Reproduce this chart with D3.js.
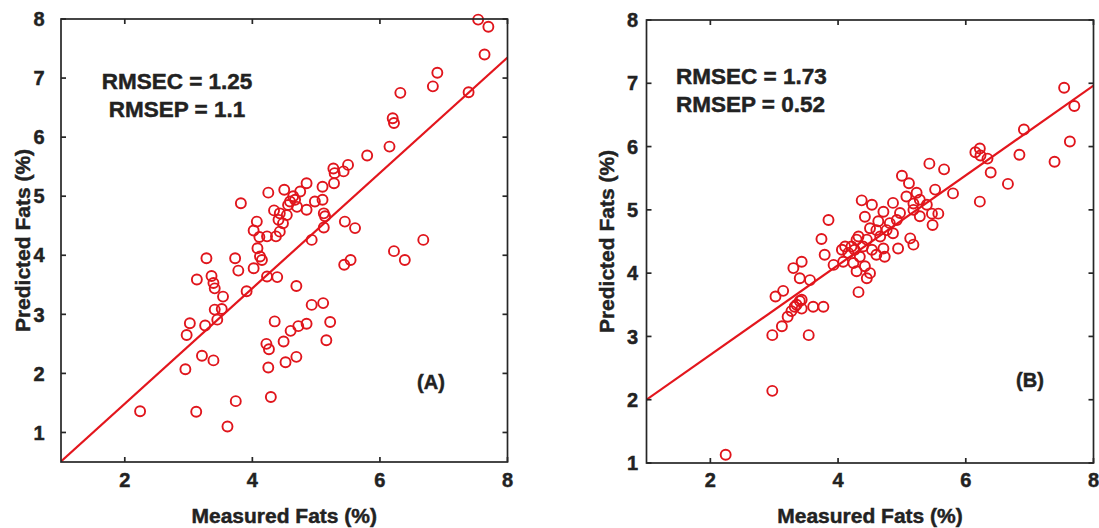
<!DOCTYPE html>
<meta charset="utf-8">
<style>
body { margin: 0; background: #fff; }
svg { display: block; }
.frame { fill: none; stroke: #262626; stroke-width: 1.7; }
.tick { stroke: #262626; stroke-width: 1.7; }
.lbl { font-family: "Liberation Sans", Arial, sans-serif; font-weight: bold; fill: #222; stroke: #222; stroke-width: 0.45; }
.dot { fill: none; stroke: #e0151c; stroke-width: 1.9; }
.fit { stroke: #e3161d; stroke-width: 2.2; fill: none; }
</style>
<body>
<div id="draw"></div>
<script src="https://cdn.jsdelivr.net/npm/d3@7"></script>
<script>

// measured vs predicted fats, panel A
var pointsA = [
  [7.54,7.99],[7.70,7.87],[7.64,7.40],[6.90,7.09],[6.83,6.86],[6.32,6.75],[7.39,6.76],[6.20,6.32],[6.22,6.24],[6.15,5.84],[5.80,5.69],
  [5.50,5.53],[5.43,5.42],[5.27,5.47],[5.29,5.39],[5.28,5.22],[5.10,5.16],[4.85,5.22],[4.75,5.08],[4.50,5.11],[4.25,5.06],[3.82,4.88],
  [4.64,5.00],[4.67,4.94],[4.59,4.91],[4.56,4.85],[4.70,4.82],[4.85,4.77],[4.98,4.91],[5.10,4.94],[5.12,4.71],[5.14,4.66],[5.12,4.47],
  [4.43,4.71],[4.34,4.76],[4.54,4.68],[4.41,4.60],[4.48,4.54],[4.43,4.40],[4.37,4.32],[4.23,4.32],[4.07,4.57],[4.02,4.42],[4.11,4.31],
  [4.08,4.12],[4.12,3.98],[4.15,3.92],[4.02,3.78],
  [4.93,4.26],[5.45,4.57],[5.61,4.46],[5.44,3.84],[5.54,3.92],[6.22,4.07],[6.39,3.92],[6.68,4.26],
  [3.73,3.95],[3.78,3.74],[3.28,3.95],[4.23,3.64],[4.39,3.63],[3.91,3.39],[4.69,3.48],
  [3.13,3.59],[3.36,3.65],[3.39,3.53],[3.41,3.44],[3.54,3.30],[3.41,3.08],[3.52,3.09],[3.45,2.91],[3.02,2.85],[3.26,2.81],
  [2.97,2.65],[2.95,2.07],[3.21,2.30],[3.39,2.22],[2.24,1.36],[3.12,1.35],[3.74,1.53],[3.61,1.10],[4.29,1.60],[4.25,2.10],
  [4.26,2.41],[4.22,2.50],[4.49,2.54],[4.52,2.19],[4.69,2.28],
  [4.35,2.88],[4.60,2.72],[4.72,2.80],[4.85,2.84],[4.93,3.16],[5.11,3.19],[5.22,2.87],[5.16,2.56]
];

// panel B
var pointsB = [
  [2.24,1.13],[2.97,2.14],[2.97,3.02],[3.54,3.02],[3.12,3.16],[3.02,3.63],[3.14,3.72],[3.21,3.31],[3.27,3.40],[3.35,3.50],[3.40,3.56],[3.43,3.44],
  [3.32,3.47],[3.61,3.47],[3.77,3.47],[3.43,3.58],
  [3.30,4.08],[3.43,4.18],[3.40,3.92],[3.56,3.89],[3.74,4.54],[3.79,4.29],[3.85,4.84],[3.93,4.13],
  [4.08,4.18],[4.24,4.16],[4.34,4.26],[4.16,4.32],[4.06,4.37],[4.11,4.42],[4.21,4.42],[4.26,4.37],[4.29,4.53],[4.32,4.58],[4.39,4.42],
  [4.45,4.53],[4.53,4.37],[4.60,4.29],[4.73,4.26],[4.71,4.39],[4.29,4.03],[4.42,4.11],[4.50,4.00],[4.45,3.92],[4.32,3.70],
  [4.37,5.15],[4.53,5.08],[4.42,4.89],[4.63,4.82],[4.81,4.79],[4.92,4.84],[4.76,4.68],[4.60,4.68],[4.50,4.71],[4.66,4.58],[4.86,4.63],
  [4.94,4.39],[5.13,4.55],[5.18,4.45],
  [4.71,4.97],[4.86,5.11],[4.97,4.95],[5.18,5.00],[5.28,4.90],[5.18,5.10],[5.28,5.16],[5.07,5.21],[5.23,5.27],[5.39,5.08],[5.47,4.94],
  [5.57,4.94],[5.48,4.76],[5.11,5.42],[5.00,5.54],[5.52,5.32],[5.80,5.26],[5.43,5.73],[5.66,5.64],
  [6.15,5.91],[6.22,5.97],[6.23,5.86],[6.34,5.81],[6.39,5.59],[6.22,5.13],[6.66,5.41],[6.84,5.87],[6.91,6.27],[7.39,5.76],
  [7.54,6.93],[7.70,6.64],[7.63,6.08]
];

// regression lines: [slope, intercept]
var fitA = [0.977, -0.467];
var fitB = [0.709, 1.291];

var xTicks = [2, 4, 6, 8];
var yTicks = [1, 2, 3, 4, 5, 6, 7, 8];
var statsA = ["RMSEC = 1.25", "RMSEP = 1.1"];
var statsB = ["RMSEC = 1.73", "RMSEP = 0.52"];
var xTitle = "Measured Fats (%)";
var yTitle = "Predicted Fats (%)";

var svg = d3.select("#draw").append("svg")
    .attr("width", 1099)
    .attr("height", 528);

function drawPanel(p) {
  var x = d3.scaleLinear().domain([1, 8]).range([p.left, p.right]);
  var y = d3.scaleLinear().domain(p.ydom).range([p.bottom, p.top]);
  var g = svg.append("g");
  var tl = 5;

  g.append("clipPath").attr("id", p.id)
    .append("rect")
      .attr("x", p.left).attr("y", p.top)
      .attr("width", p.right - p.left).attr("height", p.bottom - p.top);

  // fit line
  g.append("line")
      .attr("class", "fit")
      .attr("clip-path", "url(#" + p.id + ")")
      .attr("x1", x(1)).attr("y1", y(p.fit[0] * 1 + p.fit[1]))
      .attr("x2", x(8)).attr("y2", y(p.fit[0] * 8 + p.fit[1]));

  g.selectAll(".dot")
      .data(p.points)
    .enter().append("circle")
      .attr("class", "dot")
      .attr("r", 5)
      .attr("cx", function(d) { return x(d[0]); })
      .attr("cy", function(d) { return y(d[1]); });

  // ticks inward on all four sides
  xTicks.forEach(function(t) {
    g.append("line").attr("class", "tick").attr("x1", x(t)).attr("x2", x(t)).attr("y1", p.bottom).attr("y2", p.bottom - tl);
    g.append("line").attr("class", "tick").attr("x1", x(t)).attr("x2", x(t)).attr("y1", p.top).attr("y2", p.top + tl);
    g.append("text").attr("class", "lbl")
      .attr("x", x(t)).attr("y", 487)
      .style("font-size", "20px")
      .style("text-anchor", "middle")
      .text(t);
  });
  yTicks.forEach(function(t) {
    g.append("line").attr("class", "tick").attr("x1", p.left).attr("x2", p.left + tl).attr("y1", y(t)).attr("y2", y(t));
    g.append("line").attr("class", "tick").attr("x1", p.right).attr("x2", p.right - tl).attr("y1", y(t)).attr("y2", y(t));
    g.append("text").attr("class", "lbl")
      .attr("x", p.ylabx).attr("y", y(t))
      .attr("dy", "0.36em")
      .style("font-size", "20px")
      .style("text-anchor", "end")
      .text(t);
  });

  g.append("rect").attr("class", "frame")
      .attr("x", p.left).attr("y", p.top)
      .attr("width", p.right - p.left).attr("height", p.bottom - p.top);

  g.append("text").attr("class", "lbl")
      .attr("x", (p.left + p.right) / 2).attr("y", 523)
      .style("font-size", "21px")
      .style("text-anchor", "middle")
      .text(xTitle);

  g.append("text").attr("class", "lbl")
      .attr("transform", "translate(" + p.ytitx + "," + (p.top + p.bottom) / 2 + ") rotate(-90)")
      .style("font-size", "21px")
      .style("text-anchor", "middle")
      .text(yTitle);

  p.stats.forEach(function(s, i) {
    g.append("text").attr("class", "lbl")
      .attr("x", p.statx).attr("y", p.staty[i])
      .style("font-size", "22.5px")
      .style("text-anchor", p.statAnchor)
      .text(s);
  });

  g.append("text").attr("class", "lbl")
      .attr("x", p.tagx).attr("y", p.tagy)
      .style("font-size", "20px")
      .style("text-anchor", "middle")
      .text(p.tag);
}

drawPanel({
  id: "clipA", points: pointsA, fit: fitA, ydom: [0.5, 8],
  left: 61, right: 507.5, top: 19, bottom: 462,
  ylabx: 44.5, ytitx: 30,
  stats: statsA, statx: 177, staty: [89, 117], statAnchor: "middle",
  tag: "(A)", tagx: 431, tagy: 389
});

drawPanel({
  id: "clipB", points: pointsB, fit: fitB, ydom: [1, 8],
  left: 646.5, right: 1093.5, top: 20, bottom: 463,
  ylabx: 638, ytitx: 614,
  stats: statsB, statx: 676, staty: [84, 112], statAnchor: "start",
  tag: "(B)", tagx: 1030, tagy: 387
});

</script>
